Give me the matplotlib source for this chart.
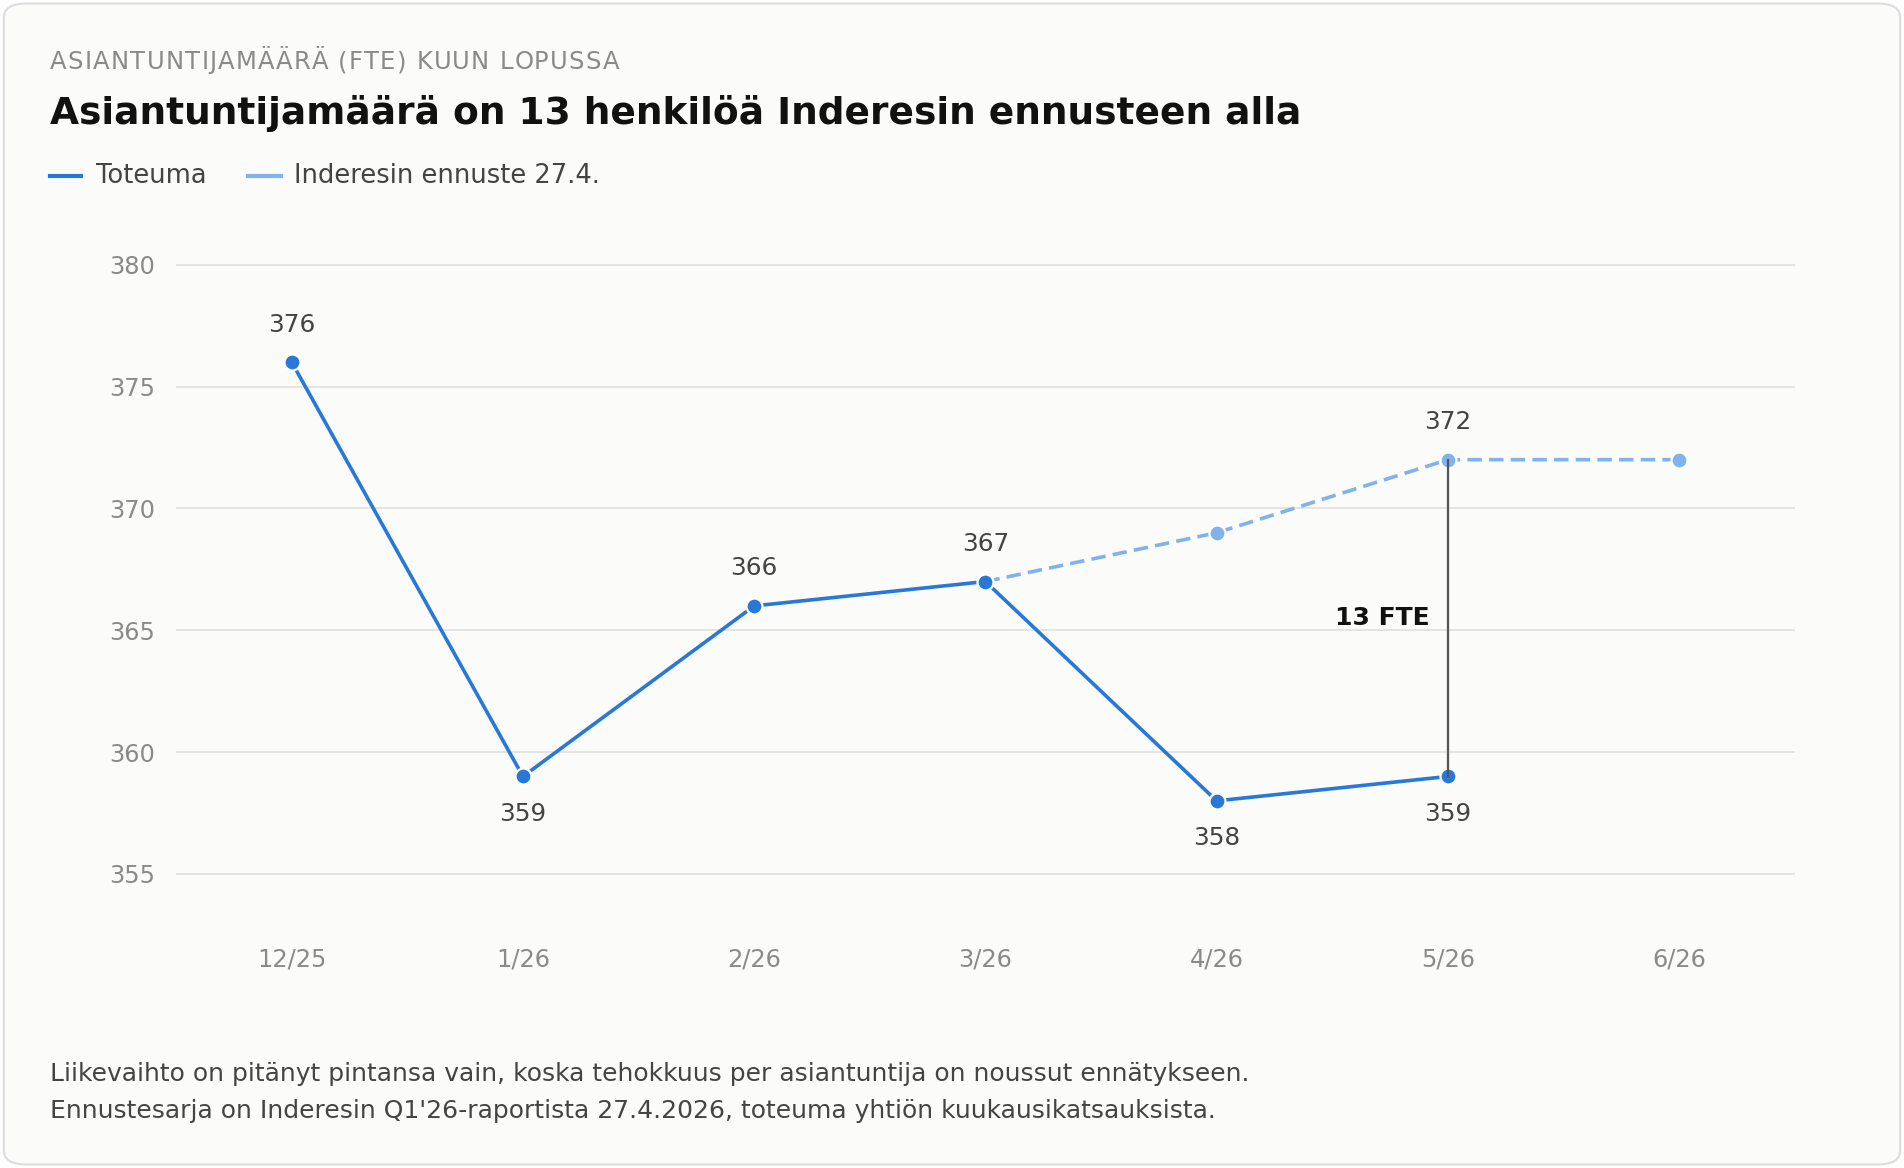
import matplotlib.pyplot as plt
from matplotlib.patches import FancyBboxPatch
from matplotlib.lines import Line2D

# data
months = ["12/25", "1/26", "2/26", "3/26", "4/26", "5/26", "6/26"]
actual = [376, 359, 366, 367, 358, 359]
forecast_months = ["3/26", "4/26", "5/26", "6/26"]
forecast = [367, 369, 372, 372]
yticks = [355, 360, 365, 370, 375, 380]

BLUE = "#2878d8"
LIGHT = "#80b2ee"
GREY = "#8a8a8a"
DARK = "#444444"

fig = plt.figure(figsize=(19.04, 11.68), dpi=100)
fig.patch.set_facecolor("white")
card = FancyBboxPatch((0.002, 0.003), 0.996, 0.994, boxstyle="round,pad=0,rounding_size=0.012",
                      transform=fig.transFigure, facecolor="#fbfbf9", edgecolor="#dcdcdc", lw=1.5,
                      zorder=-10)
fig.patches.append(card)

ax = fig.add_axes([0.0925, 0.1996, 0.8501, 0.5946])
ax.set_facecolor("none")

xi = {m: i for i, m in enumerate(months)}
xa = [xi[m] for m in months[:len(actual)]]
xf = [xi[m] for m in forecast_months]

ax.plot(xf, forecast, color=LIGHT, lw=2.6, ls=(0, (4, 2)), marker="o", ms=11.5,
        mfc=LIGHT, mec="white", mew=1.6, zorder=3)
ax.plot(xa, actual, color=BLUE, lw=2.6, marker="o", ms=11.5,
        mfc=BLUE, mec="white", mew=1.6, zorder=4)

# gap line at 5/26
gx = xi["5/26"]
ax.plot([gx, gx], [actual[gx], forecast[-2]], color="#555555", lw=1.6, zorder=5)
ax.annotate("13 FTE", (gx, (actual[gx] + forecast[-2]) / 2), xytext=(-13, 0),
            textcoords="offset points", ha="right", va="center",
            fontsize=18, fontweight="bold", color="#111111")

# value labels
above = [True, False, True, True, False, False]
for x, v, up in zip(xa, actual, above):
    ax.annotate(str(v), (x, v), xytext=(0, 27 if up else -27), textcoords="offset points",
                ha="center", va="center", fontsize=17.8, color=DARK)
ax.annotate(str(forecast[-2]), (xf[-2], forecast[-2]), xytext=(0, 27), textcoords="offset points",
            ha="center", va="center", fontsize=17.8, color=DARK)

ax.set_xlim(-0.5, 6.5)
ax.set_ylim(352.5, 381)
ax.set_xticks(range(len(months)))
ax.set_xticklabels(months)
ax.set_yticks(yticks)
ax.tick_params(length=0, labelsize=17.4, labelcolor=GREY)
ax.tick_params(axis="x", pad=9)
ax.tick_params(axis="y", pad=15)
ax.grid(axis="y", color="#e2e2de", lw=1.3)
ax.set_axisbelow(True)
for s in ax.spines.values():
    s.set_visible(False)

# header: kicker with a little letter spacing
renderer = fig.canvas.get_renderer()
W = fig.bbox.width
kicker = "ASIANTUNTIJAMÄÄRÄ (FTE) KUUN LOPUSSA"
x0 = 0.0261 * W
spacing = 1.3
probe = fig.text(0, 0, "", fontsize=17.5)
for i, ch in enumerate(kicker):
    probe.set_text(kicker[:i] + "|")
    w_bar = probe.get_window_extent(renderer).width
    probe.set_text("|")
    w_bar -= probe.get_window_extent(renderer).width
    fig.text((x0 + w_bar + i * spacing) / W, 0.9407, ch, fontsize=17.5, color=GREY, va="baseline")
probe.remove()

fig.text(0.0261, 0.894, "Asiantuntijamäärä on 13 henkilöä Inderesin ennusteen alla",
         fontsize=27, fontweight="bold", color="#111111", va="baseline")

# legend
ly = 1 - 145 / 962
fig.add_artist(Line2D([41 / 1568, 67 / 1568], [ly, ly], color=BLUE, lw=3))
fig.text(79 / 1568, ly, "Toteuma", fontsize=18.5, color=DARK, va="center")
fig.add_artist(Line2D([204 / 1568, 231 / 1568], [ly, ly], color=LIGHT, lw=3))
fig.text(242 / 1568, ly, "Inderesin ennuste 27.4.", fontsize=18.5, color=DARK, va="center")

# footer
fig.text(0.0261, 1 - 890 / 962,
         "Liikevaihto on pitänyt pintansa vain, koska tehokkuus per asiantuntija on noussut ennätykseen.",
         fontsize=18, color=DARK, va="baseline")
fig.text(0.0261, 1 - 921 / 962,
         "Ennustesarja on Inderesin Q1'26-raportista 27.4.2026, toteuma yhtiön kuukausikatsauksista.",
         fontsize=18, color=DARK, va="baseline")

fig.savefig("out.png", dpi=100, facecolor=fig.get_facecolor())
